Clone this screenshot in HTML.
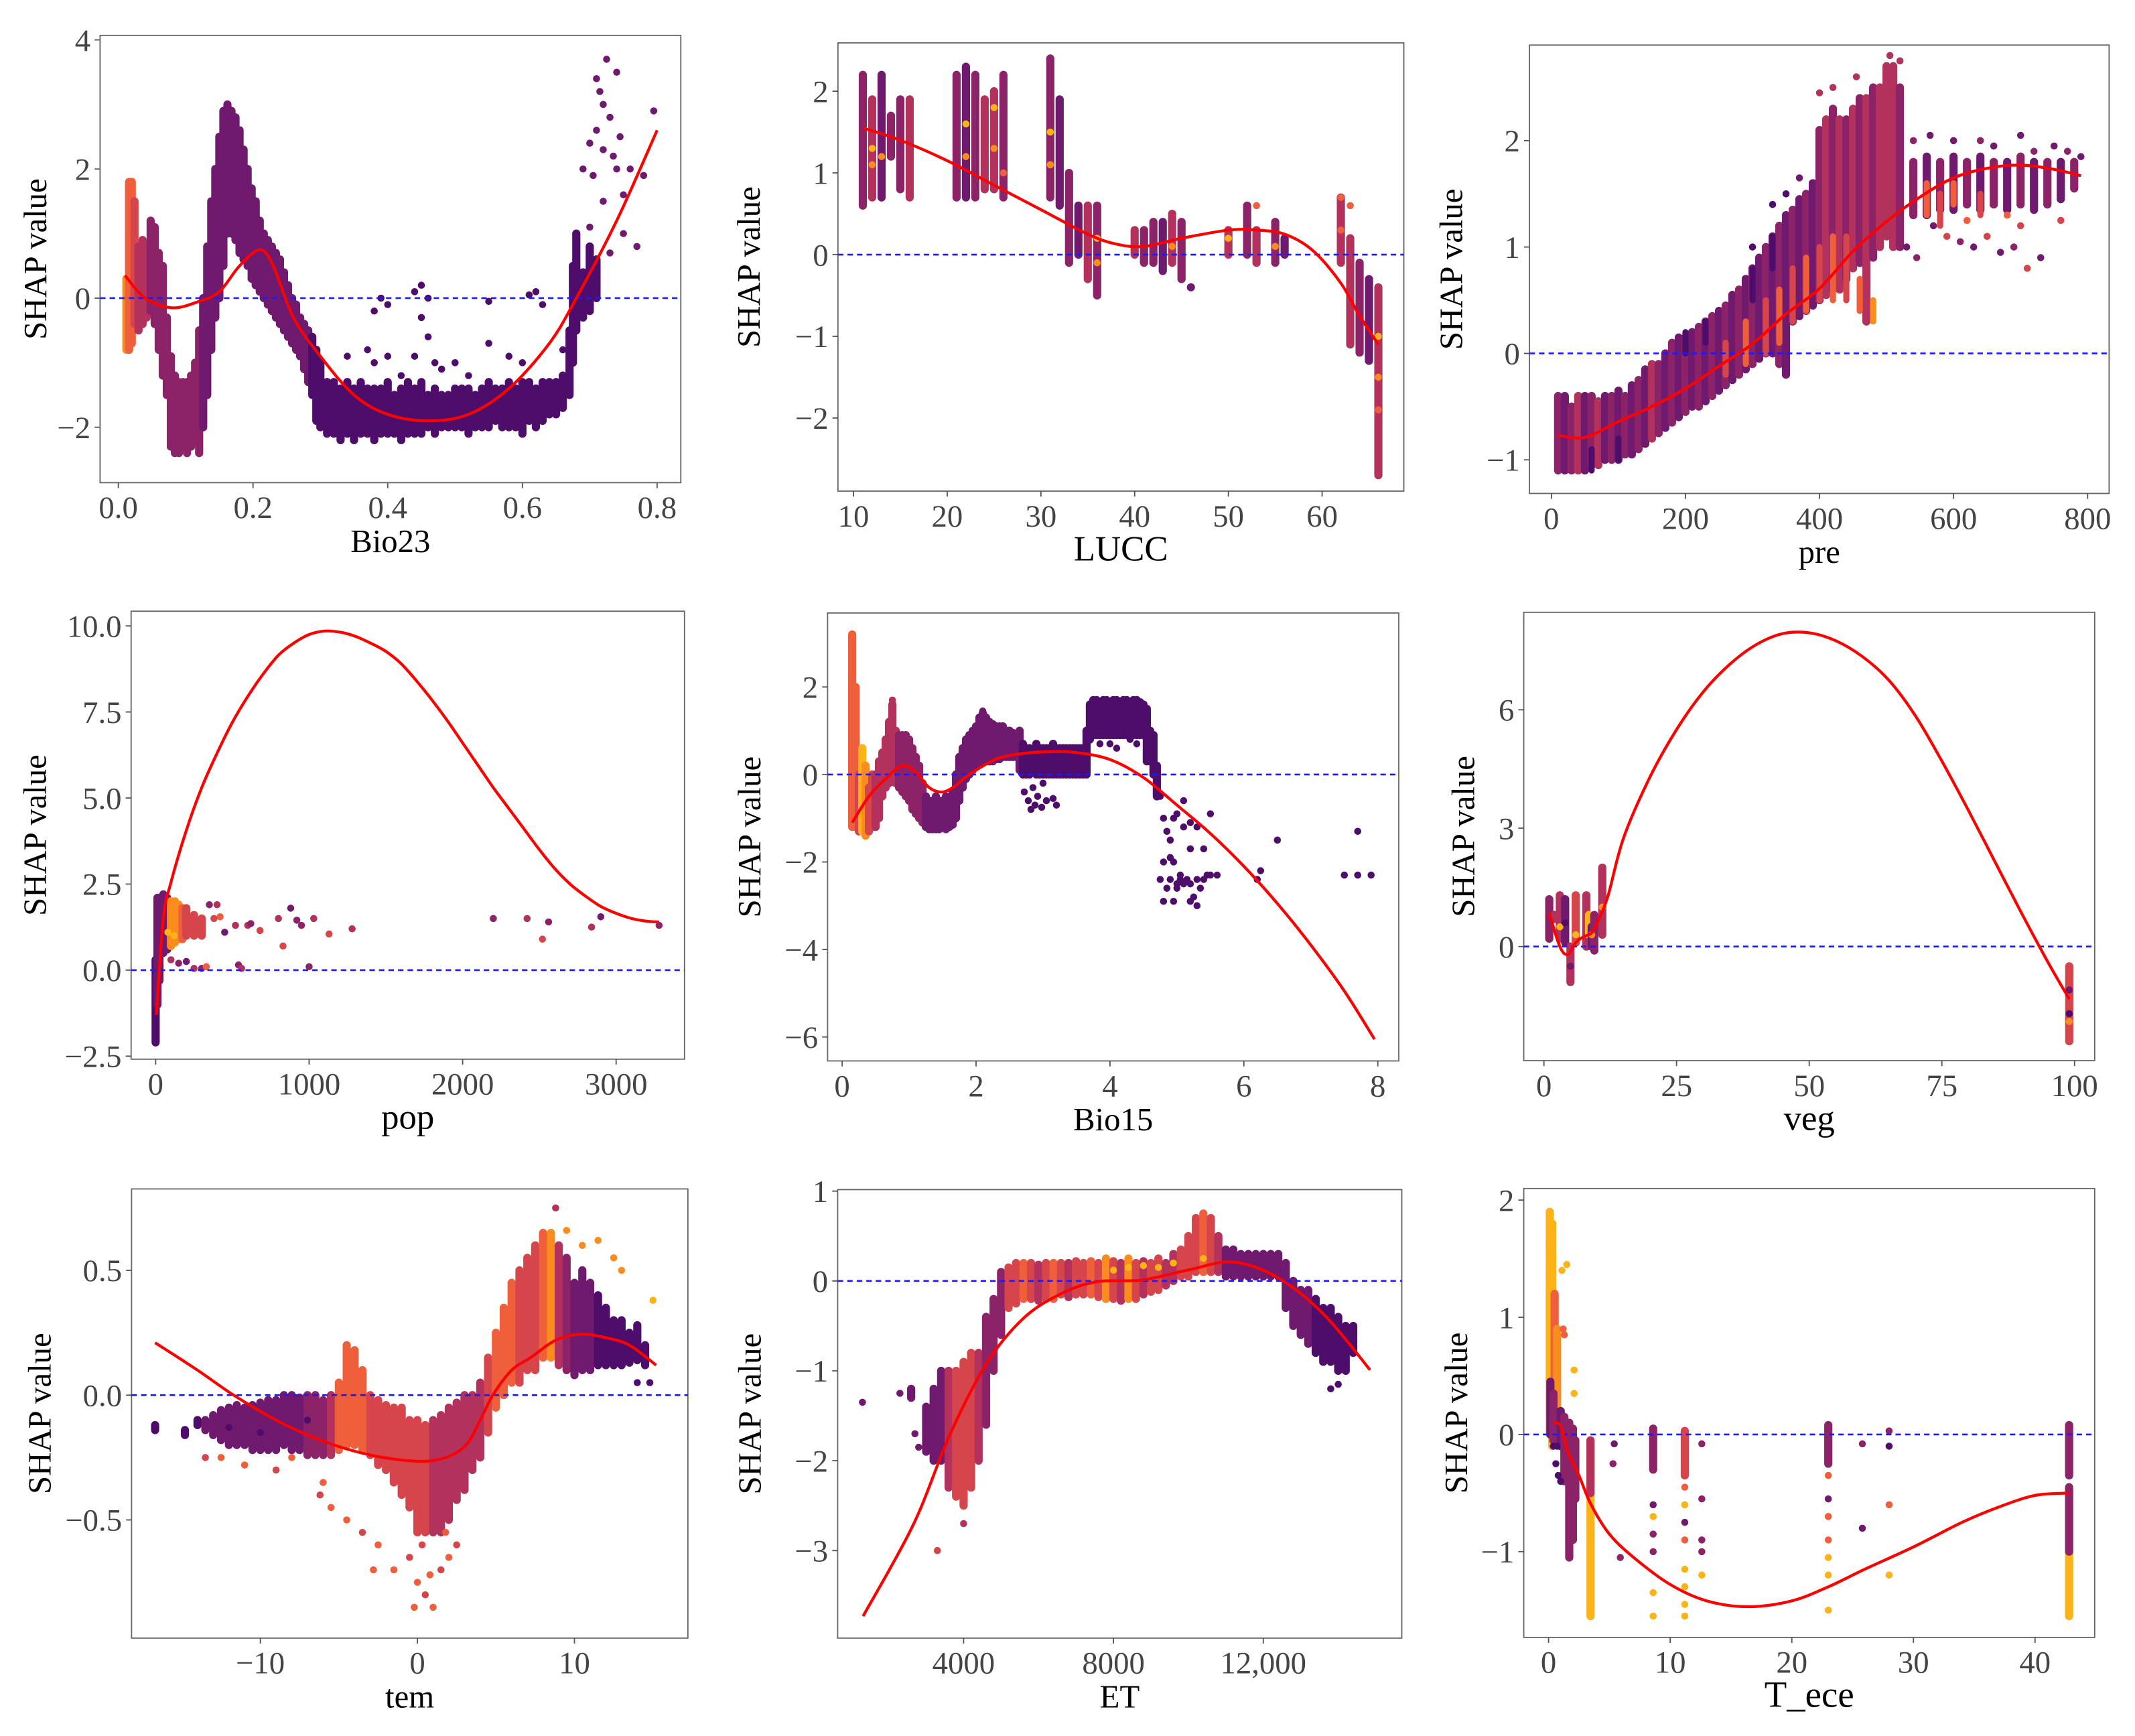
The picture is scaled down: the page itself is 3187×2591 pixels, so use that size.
<!DOCTYPE html>
<html><head><meta charset="utf-8"><style>
html,body{margin:0;padding:0;background:#fff;}
svg{display:block;}
text{font-family:"Liberation Serif","Times New Roman","DejaVu Serif",serif;}
</style></head><body>
<svg id="fig" xmlns="http://www.w3.org/2000/svg" width="3187" height="2591" viewBox="0 0 1568 1275" preserveAspectRatio="none" font-family="Liberation Serif, serif"></svg>
<script>
const palette=['#4f0d6b','#6f1a6e','#8c2369','#b3325d','#d6454b','#ef5f3c','#f98c1d','#fbb318'];

/* ---------- Bio23 ---------- */
const bio23Bands=[[0.012,-0.8,0.3,6],[0.016,-0.8,1.8,5],[0.020,-0.7,1.8,5],[0.024,-0.4,1.5,4],[0.030,-0.5,0.8,3],[0.036,-0.4,0.9,3],[0.042,-0.3,0.8,3],[0.048,-0.2,1.2,2],[0.054,-0.4,1.1,2],[0.060,-0.8,0.7,2],[0.066,-1.2,0.5,2],[0.072,-1.5,-0.3,2],[0.078,-2.3,-0.9,2],[0.084,-2.4,-1.2,2],[0.090,-2.4,-1.3,2],[0.096,-2.3,-1.3,2],[0.102,-2.4,-1.3,2],[0.108,-2.3,-1.2,2],[0.114,-2.2,-1.0,2],[0.120,-2.4,-0.5,2],[0.126,-2.0,0.0,1],[0.132,-1.5,0.8,1],[0.138,-0.8,1.5,1],[0.144,-0.3,2.0,1],[0.150,0.0,2.5,1],[0.156,0.5,2.9,1],[0.162,1.0,3.0,1],[0.168,1.0,2.9,1],[0.174,0.9,2.8,1],[0.180,0.7,2.6,1],[0.186,0.6,2.3,1],[0.192,0.5,2.0,1],[0.198,0.3,1.7,1],[0.204,0.2,1.5,1],[0.210,0.1,1.2,1],[0.216,0.0,1.0,1],[0.222,-0.1,0.9,1],[0.228,-0.2,0.8,1],[0.234,-0.3,0.7,1],[0.240,-0.4,0.6,1],[0.246,-0.5,0.4,1],[0.252,-0.6,0.2,1],[0.258,-0.7,0.0,1],[0.264,-0.8,-0.1,1],[0.270,-0.9,-0.3,1],[0.276,-1.1,-0.4,1],[0.282,-1.3,-0.5,1],[0.288,-1.5,-0.6,0],[0.294,-1.9,-0.8,0],[0.30,-2.0,-1.0,0],[0.31,-2.1,-1.3,0],[0.32,-2.1,-1.3,0],[0.33,-2.2,-1.4,0],[0.34,-2.1,-1.3,0],[0.35,-2.2,-1.4,0],[0.36,-2.1,-1.3,0],[0.37,-2.1,-1.4,0],[0.38,-2.2,-1.4,0],[0.39,-2.1,-1.4,0],[0.40,-2.1,-1.3,0],[0.41,-2.1,-1.5,0],[0.42,-2.2,-1.4,0],[0.43,-2.1,-1.3,0],[0.44,-2.1,-1.4,0],[0.45,-2.1,-1.3,0],[0.46,-2.0,-1.5,0],[0.47,-2.1,-1.4,0],[0.48,-2.0,-1.5,0],[0.49,-2.0,-1.5,0],[0.50,-2.0,-1.4,0],[0.51,-2.0,-1.4,0],[0.52,-2.1,-1.4,0],[0.53,-2.0,-1.5,0],[0.54,-2.0,-1.4,0],[0.55,-2.0,-1.3,0],[0.56,-1.9,-1.4,0],[0.57,-2.0,-1.4,0],[0.58,-2.0,-1.3,0],[0.59,-2.0,-1.4,0],[0.60,-2.1,-1.3,0],[0.61,-1.9,-1.3,0],[0.62,-2.0,-1.4,0],[0.63,-1.9,-1.3,0],[0.64,-1.8,-1.3,0],[0.65,-1.8,-1.3,0],[0.66,-1.7,-1.2,0],[0.67,-1.5,-0.5,0],[0.675,-1.0,0.5,0],[0.68,-0.5,1.0,0],[0.69,-0.3,0.4,0],[0.70,-0.2,0.8,0],[0.71,0.0,0.6,0]];
const bio23Points=[[0.69,2.0,1],[0.70,2.4,1],[0.71,3.4,1],[0.72,3.0,1],[0.725,3.7,1],[0.73,2.8,1],[0.735,2.2,1],[0.74,3.5,1],[0.745,2.5,1],[0.75,1.0,1],[0.76,2.0,1],[0.77,0.8,1],[0.78,1.9,1],[0.795,2.9,1],[0.72,1.5,1],[0.70,1.1,1],[0.73,0.7,1],[0.75,1.6,1],[0.74,2.0,1],[0.71,2.6,1],[0.715,3.2,1],[0.705,1.9,1],[0.72,2.3,1],[0.39,0.0,0],[0.40,-0.1,0],[0.38,-0.2,0],[0.44,0.1,0],[0.45,0.2,0],[0.46,0.0,0],[0.45,-0.3,0],[0.46,-0.6,0],[0.44,-0.9,0],[0.47,-1.0,0],[0.37,-0.8,0],[0.40,-0.9,0],[0.55,-0.05,0],[0.61,0.05,0],[0.62,0.1,0],[0.63,-0.1,0],[0.50,-1.0,0],[0.55,-0.7,0],[0.58,-0.9,0],[0.34,-0.9,0],[0.42,-1.2,0],[0.52,-1.2,0],[0.60,-1.0,0],[0.66,-0.8,0],[0.38,-1.0,0],[0.48,-1.1,0]];
const bio23Curve=[[0.01,0.35],[0.04,0.0],[0.08,-0.15],[0.12,-0.05],[0.15,0.1],[0.18,0.5],[0.21,0.75],[0.23,0.5],[0.26,-0.3],[0.3,-0.9],[0.35,-1.5],[0.4,-1.8],[0.46,-1.9],[0.52,-1.8],[0.58,-1.4],[0.64,-0.7],[0.68,0.0],[0.74,1.2],[0.8,2.6]];
const bio23XTicks=[0,0.2,0.4,0.6,0.8];
const bio23XLabels=['0.0','0.2','0.4','0.6','0.8'];
const bio23YTicks=[-2,0,2,4];
const bio23YLabels=['\u22122','0','2','4'];

/* ---------- LUCC ---------- */
const luccBands=[[11,0.6,2.2,2],[12,0.7,1.9,3],[13,0.7,2.2,1],[14,1.2,1.7,2],[15,0.8,1.9,2],[16,0.7,1.9,3],[21,0.7,2.2,2],[22,0.7,2.3,1],[23,0.7,2.2,2],[24,0.8,1.9,3],[25,0.8,2.0,3],[26,0.7,2.2,2],[31,0.7,2.4,2],[32,0.6,1.9,1],[33,-0.1,1.0,2],[34,0.0,0.6,1],[35,-0.3,0.6,3],[36,-0.5,0.6,2],[40,0.0,0.3,3],[41,-0.1,0.3,2],[42,-0.1,0.4,2],[43,-0.2,0.4,1],[44,-0.1,0.5,3],[45,-0.3,0.4,2],[46,-0.4,-0.4,1],[50,0.0,0.3,3],[52,0.0,0.6,2],[53,-0.1,0.3,3],[55,-0.1,0.4,2],[56,0.0,0.2,1],[62,-0.1,0.7,3],[63,-1.1,0.2,3],[64,-1.2,-0.1,2],[65,-1.3,-0.3,1],[66,-2.7,-0.4,3]];
const luccPoints=[[12,1.1,6],[12,1.3,7],[13,1.2,6],[22,1.2,6],[22,1.6,7],[25,1.8,7],[25,1.3,6],[26,1.0,5],[31,1.1,6],[31,1.5,7],[36,0.2,7],[36,-0.1,6],[44,0.1,6],[50,0.2,7],[55,0.1,6],[62,0.3,5],[66,-1.5,6],[66,-1.9,5],[66,-1.0,7],[63,0.6,5],[46,-0.4,1],[62,0.7,5],[53,0.6,5]];
const luccCurve=[[11,1.55],[15,1.4],[20,1.15],[25,0.85],[30,0.55],[35,0.25],[38,0.13],[41,0.1],[45,0.2],[50,0.3],[53,0.3],[56,0.25],[59,0.05],[62,-0.35],[64,-0.75],[66,-1.1]];
const luccXTicks=[10,20,30,40,50,60];
const luccXLabels=['10','20','30','40','50','60'];
const luccYTicks=[-2,-1,0,1,2];
const luccYLabels=['\u22122','\u22121','0','1','2'];

/* ---------- pre ---------- */
const preBands=[[10,-1.1,-0.4,2],[20,-1.1,-0.4,1],[30,-1.1,-0.5,2],[40,-1.1,-0.4,3],[50,-1.1,-0.4,1],[60,-1.05,-0.4,2],[70,-1.05,-0.45,3],[80,-1.0,-0.4,1],[90,-1.0,-0.4,2],[100,-1.0,-0.35,1],[110,-0.95,-0.4,2],[120,-0.95,-0.3,1],[130,-0.9,-0.25,2],[140,-0.85,-0.15,1],[150,-0.8,-0.1,3],[160,-0.75,-0.1,2],[170,-0.7,0.0,1],[180,-0.65,0.1,2],[190,-0.6,0.15,1],[200,-0.55,0.15,2],[210,-0.5,0.2,1],[220,-0.5,0.25,2],[230,-0.45,0.3,1],[240,-0.4,0.35,2],[250,-0.35,0.4,1],[260,-0.3,0.45,2],[270,-0.25,0.55,1],[280,-0.2,0.6,2],[290,-0.15,0.7,1],[300,-0.1,0.8,2],[310,-0.05,0.9,1],[320,0.0,1.0,2],[330,0.0,1.1,1],[340,-0.1,1.2,2],[350,-0.2,1.3,1],[360,0.3,1.35,2],[370,0.35,1.45,1],[380,0.4,1.5,2],[390,0.45,1.6,1],[400,0.5,2.1,2],[410,0.55,2.2,3],[420,0.6,2.3,2],[430,0.6,2.2,3],[440,0.7,2.2,2],[450,0.8,2.3,3],[460,0.85,2.4,2],[470,0.3,2.4,3],[480,0.9,2.5,2],[490,1.0,2.5,3],[500,1.1,2.7,3],[510,1.0,2.7,3],[520,1.0,2.5,2],[540,1.3,1.8,2],[560,1.3,1.85,1],[580,1.35,1.8,2],[600,1.35,1.85,1],[620,1.4,1.8,2],[640,1.35,1.85,1],[660,1.4,1.8,2],[680,1.35,1.8,1],[700,1.4,1.85,2],[720,1.35,1.8,1],[740,1.4,1.8,2],[760,1.45,1.8,1],[780,1.55,1.8,2]];
const preOverlay=[[260,-0.2,0.1,4],[290,-0.1,0.3,5],[320,0.0,0.5,4],[340,0.1,0.6,5],[360,0.3,0.8,4],[380,0.4,0.9,5],[400,0.5,1.0,4],[420,0.5,1.1,5],[440,0.5,1.1,4],[460,0.4,0.7,5],[480,0.3,0.5,6],[560,1.3,1.6,5],[580,1.2,1.5,4],[600,1.4,1.6,5],[640,1.3,1.5,4],[200,0.0,0.2,0],[230,0.1,0.3,0],[300,0.5,0.8,0],[330,0.8,1.1,0],[60,-1.1,-0.9,0],[100,-1.0,-0.8,0]];
const prePoints=[[530,1.0,1],[545,0.9,2],[570,1.2,1],[590,1.1,4],[610,1.05,2],[630,1.0,1],[650,1.1,4],[670,0.95,1],[690,1.0,2],[710,0.8,4],[730,0.9,1],[760,1.25,4],[540,2.0,2],[565,2.05,1],[600,2.0,1],[640,2.0,2],[660,1.95,1],[700,2.05,1],[720,1.9,2],[750,1.95,1],[770,1.9,2],[790,1.85,1],[620,1.25,5],[680,1.3,5],[700,1.2,4],[330,1.4,0],[350,1.5,0],[370,1.65,1],[300,1.0,0],[400,2.45,3],[420,2.5,3],[455,2.6,3],[520,2.75,3],[505,2.8,3]];
const preCurve=[[10,-0.77],[50,-0.79],[100,-0.64],[150,-0.5],[200,-0.33],[250,-0.12],[300,0.09],[350,0.37],[400,0.61],[450,0.96],[500,1.24],[550,1.47],[600,1.65],[650,1.74],[700,1.77],[750,1.73],[790,1.67]];
const preXTicks=[0,200,400,600,800];
const preXLabels=['0','200','400','600','800'];
const preYTicks=[-1,0,1,2];
const preYLabels=['\u22121','0','1','2'];

/* ---------- pop ---------- */
const popBands=[[0,-2.1,0.3,0],[12,-1.0,2.1,1],[25,-0.3,2.1,1],[50,0.5,2.2,1],[75,0.6,2.1,1],[100,0.7,2.0,6],[125,0.8,2.0,6],[150,0.9,1.9,6],[175,0.9,1.8,5],[200,1.0,1.8,4],[250,1.0,1.6,4],[300,1.0,1.5,4]];
const popPoints=[[100,0.3,3],[150,0.2,2],[200,0.25,1],[250,0.05,3],[300,0.05,2],[330,0.1,5],[400,1.9,3],[420,1.55,5],[450,1.1,1],[520,1.3,3],[540,0.15,2],[560,0.05,3],[600,1.3,3],[620,1.35,2],[680,1.15,4],[800,1.5,3],[830,0.7,4],[880,1.8,1],[920,1.45,2],[950,1.3,2],[1000,0.1,2],[1030,1.5,3],[1130,1.05,4],[1280,1.2,3],[2200,1.5,2],[2420,1.5,3],[2520,0.9,4],[2560,1.4,2],[2840,1.25,3],[2900,1.55,1],[3280,1.3,2],[350,1.9,2],[380,1.5,4],[80,1.1,7],[120,1.0,7]];
const popCurve=[[5,-1.3],[50,1.5],[100,2.55],[200,4.06],[300,5.3],[400,6.3],[500,7.2],[600,7.95],[700,8.6],[800,9.15],[900,9.5],[1000,9.75],[1100,9.85],[1200,9.82],[1300,9.7],[1400,9.5],[1500,9.26],[1600,8.9],[1700,8.4],[1800,7.85],[1900,7.25],[2000,6.6],[2100,5.95],[2200,5.3],[2300,4.7],[2400,4.1],[2500,3.5],[2600,2.95],[2700,2.5],[2800,2.15],[2900,1.85],[3000,1.65],[3100,1.5],[3200,1.42],[3280,1.4]];
const popXTicks=[0,1000,2000,3000];
const popXLabels=['0','1000','2000','3000'];
const popYTicks=[-2.5,0,2.5,5,7.5,10];
const popYLabels=['\u22122.5','0.0','2.5','5.0','7.5','10.0'];

/* ---------- Bio15 ---------- */
const bio15Bands=[[0.15,-1.2,3.2,5],[0.2,-1.2,2.0,5],[0.25,-1.3,0.0,4],[0.3,-1.3,0.6,7],[0.35,-1.4,0.2,6],[0.4,-1.3,-0.3,4],[0.45,-1.2,0.0,4],[0.5,-1.2,0.0,3],[0.55,-1.0,0.3,3],[0.6,-0.5,0.5,3],[0.65,-0.3,0.8,3],[0.7,-0.2,1.2,3],[0.75,-0.1,1.6,3],[0.8,-0.2,1.0,3],[0.85,-0.3,0.9,2],[0.9,-0.4,0.9,2],[0.95,-0.5,0.9,2],[1.0,-0.6,0.8,2],[1.05,-0.8,0.6,2],[1.1,-0.9,0.4,2],[1.15,-1.0,0.2,2],[1.2,-1.1,-0.2,2],[1.25,-1.2,-0.5,1],[1.3,-1.25,-0.6,1],[1.35,-1.25,-0.6,1],[1.4,-1.25,-0.5,1],[1.45,-1.25,-0.6,1],[1.5,-1.2,-0.6,1],[1.55,-1.25,-0.5,1],[1.6,-1.2,-0.6,1],[1.65,-1.15,-0.4,1],[1.7,-1.0,0.0,1],[1.75,-0.6,0.4,1],[1.8,-0.3,0.6,1],[1.85,-0.1,0.8,1],[1.9,0.0,0.9,1],[1.95,0.1,1.0,1],[2.0,0.2,1.1,1],[2.05,0.25,1.3,1],[2.1,0.3,1.4,1],[2.15,0.3,1.3,1],[2.2,0.3,1.2,1],[2.25,0.3,1.15,1],[2.3,0.35,1.1,1],[2.35,0.35,1.1,1],[2.4,0.4,1.1,1],[2.45,0.4,1.0,1],[2.5,0.4,1.0,1],[2.55,0.4,0.95,1],[2.6,0.4,0.9,1],[2.65,0.1,1.0,1],[2.7,0.0,0.7,0],[2.75,0.0,0.6,0],[2.8,0.0,0.6,0],[2.85,0.05,0.5,0],[2.9,0.0,0.7,0],[2.95,0.0,0.6,0],[3.0,0.0,0.6,0],[3.05,0.0,0.6,0],[3.1,0.0,0.6,0],[3.15,0.0,0.7,0],[3.2,0.0,0.6,0],[3.25,0.0,0.6,0],[3.3,0.0,0.6,0],[3.35,0.0,0.6,0],[3.4,0.0,0.6,0],[3.45,0.0,0.6,0],[3.5,0.0,0.6,0],[3.55,0.0,0.6,0],[3.6,0.0,0.6,0],[3.65,0.0,1.0,0],[3.7,0.8,1.6,0],[3.75,0.9,1.7,0],[3.8,0.9,1.7,0],[3.85,0.9,1.65,0],[3.9,0.9,1.7,0],[3.95,0.9,1.7,0],[4.0,0.9,1.65,0],[4.05,0.9,1.7,0],[4.1,0.9,1.7,0],[4.15,0.9,1.65,0],[4.2,0.9,1.7,0],[4.25,0.9,1.7,0],[4.3,0.9,1.65,0],[4.35,0.9,1.7,0],[4.4,0.9,1.7,0],[4.45,0.9,1.65,0],[4.5,0.9,1.6,0],[4.55,0.3,1.5,0],[4.6,0.3,1.0,0],[4.65,0.0,0.9,0],[4.7,-0.5,0.2,0]];
const bio15Points=[[2.72,-0.4,0],[2.78,-0.6,0],[2.82,-0.8,0],[2.88,-0.7,0],[2.92,-0.5,0],[2.98,-0.75,0],[3.05,-0.6,0],[3.15,-0.55,0],[3.2,-0.7,0],[2.85,-0.3,0],[3.0,-0.2,0],[4.75,-0.5,0],[4.8,-1.0,0],[4.85,-1.3,0],[4.9,-1.5,0],[4.95,-1.0,0],[5.0,-0.9,0],[5.1,-1.2,0],[5.1,-0.6,0],[5.2,-1.1,0],[5.3,-1.2,0],[5.5,-0.9,0],[5.4,-1.7,0],[4.8,-2.0,0],[4.95,-2.0,0],[5.2,-1.7,0],[4.9,-1.9,0],[4.75,-2.4,0],[4.85,-2.6,0],[4.9,-2.4,0],[5.0,-2.5,0],[5.05,-2.4,0],[5.1,-2.5,0],[5.15,-2.4,0],[5.2,-2.5,0],[5.3,-2.4,0],[5.4,-2.4,0],[5.45,-2.3,0],[5.5,-2.3,0],[5.6,-2.3,0],[4.8,-2.9,0],[4.95,-2.9,0],[5.2,-2.9,0],[5.25,-2.8,0],[5.3,-3.0,0],[6.2,-2.4,0],[6.25,-2.2,0],[6.5,-1.5,0],[7.5,-2.3,0],[7.7,-2.3,0],[7.7,-1.3,0],[7.9,-2.3,0],[5.0,-2.6,0],[5.35,-2.6,0],[5.05,-2.3,0],[3.85,0.7,0],[4.0,0.7,0],[4.1,0.6,0],[4.3,0.8,0],[4.4,0.7,0],[0.75,1.7,3],[2.1,1.45,1]];
const bio15Curve=[[0.15,-1.1],[0.4,-0.5],[0.65,-0.1],[0.9,0.2],[1.1,0.05],[1.3,-0.3],[1.5,-0.4],[1.7,-0.25],[1.9,0.0],[2.3,0.35],[2.7,0.48],[3.1,0.52],[3.5,0.5],[4.0,0.34],[4.5,-0.07],[5.0,-0.7],[5.5,-1.35],[6.0,-2.1],[6.5,-2.95],[7.0,-3.9],[7.5,-4.95],[7.95,-6.05]];
const bio15XTicks=[0,2,4,6,8];
const bio15XLabels=['0','2','4','6','8'];
const bio15YTicks=[-6,-4,-2,0,2];
const bio15YLabels=['\u22126','\u22124','\u22122','0','2'];

/* ---------- veg ---------- */
const vegBands=[[1,0.2,1.2,2],[2,0.7,0.8,3],[3,0.2,1.3,3],[4,0.1,1.2,1],[5,-0.9,0.0,3],[6,0.1,1.3,4],[8,0.0,1.3,3],[8.5,0.3,0.8,7],[9,0.0,0.5,1],[9.5,-0.1,0.8,2],[11,0.3,2.0,3],[99,-2.4,-0.5,4]];
const vegPoints=[[5,-0.5,1],[6,0.3,7],[9,0.3,6],[99,-1.1,1],[99,-1.7,0],[99,-1.9,6],[3,0.5,7],[11,1.0,6],[4,0.6,0]];
const vegCurve=[[1,0.85],[3,0.0],[4.5,-0.2],[6,0.1],[7.5,0.25],[9,0.35],[10,0.6],[12,1.25],[15,2.75],[20,4.3],[25,5.5],[30,6.45],[35,7.15],[40,7.65],[45,7.93],[50,7.95],[55,7.75],[60,7.35],[65,6.75],[70,5.85],[75,4.7],[80,3.45],[85,2.15],[90,0.85],[95,-0.4],[99,-1.33]];
const vegXTicks=[0,25,50,75,100];
const vegXLabels=['0','25','50','75','100'];
const vegYTicks=[0,3,6];
const vegYLabels=['0','3','6'];

/* ---------- tem ---------- */
const temBands=[[-16.7,-0.14,-0.12,0],[-14.8,-0.16,-0.14,0],[-14,-0.12,-0.1,0],[-13.5,-0.14,-0.1,1],[-13,-0.16,-0.08,1],[-12.5,-0.18,-0.06,1],[-12,-0.2,-0.05,1],[-11.5,-0.2,-0.04,1],[-11,-0.2,-0.05,1],[-10.5,-0.22,-0.04,1],[-10,-0.22,-0.03,1],[-9.5,-0.22,-0.02,1],[-9,-0.22,-0.02,1],[-8.5,-0.2,0.0,1],[-8,-0.22,0.0,1],[-7.5,-0.22,-0.01,1],[-7,-0.24,0.0,2],[-6.5,-0.24,0.0,2],[-6,-0.24,-0.02,2],[-5.5,-0.24,0.0,3],[-5,-0.22,0.05,5],[-4.5,-0.2,0.2,5],[-4,-0.2,0.18,5],[-3.5,-0.22,0.1,5],[-3,-0.24,0.0,4],[-2.5,-0.28,-0.02,4],[-2,-0.3,-0.04,4],[-1.5,-0.35,-0.05,4],[-1,-0.4,-0.05,4],[-0.5,-0.45,-0.1,4],[0,-0.55,-0.1,4],[0.5,-0.55,-0.12,4],[1,-0.55,-0.1,3],[1.5,-0.55,-0.08,3],[2,-0.5,-0.05,3],[2.5,-0.42,-0.03,3],[3,-0.38,0.0,3],[3.5,-0.3,0.0,3],[4,-0.25,0.05,3],[4.5,-0.15,0.15,4],[5,-0.05,0.25,5],[5.5,0.0,0.35,5],[6,0.05,0.45,5],[6.5,0.05,0.5,4],[7,0.1,0.55,4],[7.5,0.1,0.6,4],[8,0.15,0.65,5],[8.5,0.15,0.65,6],[9,0.12,0.6,3],[9.5,0.1,0.55,2],[10,0.08,0.45,1],[10.5,0.1,0.5,1],[11,0.1,0.45,1],[11.5,0.12,0.4,0],[12,0.12,0.35,0],[12.5,0.12,0.3,0],[13,0.12,0.3,0],[13.5,0.13,0.25,0],[14,0.14,0.28,0],[14.5,0.12,0.2,0]];
const temPoints=[[-12.5,-0.25,5],[-13.5,-0.25,4],[-11,-0.28,5],[-9,-0.3,4],[-8,-0.25,5],[-6,-0.35,5],[-5.5,-0.45,5],[-6.2,-0.4,4],[-4.5,-0.5,5],[-3.5,-0.55,4],[-2.5,-0.6,5],[-1.5,-0.7,5],[-0.5,-0.65,4],[0,-0.75,5],[0.5,-0.8,4],[1,-0.85,5],[-0.2,-0.85,5],[1.5,-0.7,4],[2,-0.65,5],[2.5,-0.6,4],[-2.8,-0.7,5],[0.8,-0.72,5],[0.3,-0.6,4],[1.8,-0.55,5],[10.5,0.6,6],[11.5,0.62,6],[12.5,0.55,6],[13,0.5,6],[15,0.38,7],[14.8,0.05,0],[14,0.05,0],[8.8,0.75,3],[9.5,0.66,6],[-10,-0.15,0],[-12,-0.13,0],[-7,-0.1,0]];
const temCurve=[[-16.7,0.21],[-14,0.1],[-11.7,0.0],[-9,-0.1],[-6.2,-0.18],[-3,-0.24],[0,-0.265],[1.8,-0.25],[3.1,-0.2],[4.0,-0.1],[4.8,0.0],[6,0.1],[7.2,0.15],[8.8,0.22],[10.4,0.244],[12,0.23],[13.5,0.2],[15.2,0.12]];
const temXTicks=[-10,0,10];
const temXLabels=['\u221210','0','10'];
const temYTicks=[-0.5,0,0.5];
const temYLabels=['\u22120.5','0.0','0.5'];

/* ---------- ET ---------- */
const etBands=[[2600,-1.3,-1.2,1],[3000,-1.9,-1.4,1],[3200,-2.0,-1.2,1],[3400,-2.0,-1.0,1],[3600,-2.3,-1.0,3],[3800,-2.4,-1.0,4],[4000,-2.5,-0.9,4],[4200,-2.3,-0.8,4],[4400,-2.0,-0.8,3],[4600,-1.6,-0.4,2],[4800,-1.0,-0.2,2],[5000,-0.6,0.1,2],[5200,-0.3,0.15,4],[5400,-0.25,0.2,4],[5600,-0.2,0.2,5],[5800,-0.2,0.2,4],[6000,-0.22,0.18,3],[6200,-0.2,0.2,4],[6400,-0.2,0.2,5],[6600,-0.15,0.2,4],[6800,-0.18,0.2,3],[7000,-0.15,0.22,4],[7200,-0.15,0.2,4],[7400,-0.15,0.22,5],[7600,-0.18,0.2,4],[7800,-0.2,0.25,6],[8000,-0.2,0.22,4],[8200,-0.22,0.2,3],[8400,-0.2,0.25,6],[8600,-0.2,0.2,4],[8800,-0.15,0.22,3],[9000,-0.12,0.2,4],[9200,-0.1,0.25,4],[9400,-0.05,0.2,3],[9600,0.0,0.3,3],[9800,0.05,0.35,4],[10000,0.05,0.5,4],[10200,0.1,0.7,4],[10400,0.1,0.75,5],[10600,0.1,0.7,4],[10800,0.1,0.5,3],[11000,0.05,0.35,1],[11200,0.05,0.35,1],[11400,0.05,0.3,1],[11600,0.05,0.3,1],[11800,0.05,0.3,1],[12000,0.05,0.3,1],[12200,0.05,0.3,1],[12400,0.05,0.3,1],[12600,-0.3,0.2,1],[12800,-0.5,0.0,1],[13000,-0.6,-0.1,1],[13200,-0.7,-0.1,1],[13400,-0.8,-0.2,0],[13600,-0.9,-0.3,0],[13800,-0.9,-0.3,0],[14000,-1.0,-0.4,0],[14200,-1.0,-0.5,0],[14400,-0.8,-0.5,0]];
const etPoints=[[1300,-1.35,1],[2300,-1.25,1],[2700,-1.7,1],[3300,-3.0,4],[4000,-2.7,3],[3400,-1.6,1],[2800,-1.85,1],[8000,0.12,7],[8400,0.15,7],[8800,0.17,7],[9200,0.15,7],[9600,0.2,7],[10400,0.25,7],[13800,-1.2,0],[14000,-1.15,0]];
const etCurve=[[1317,-3.73],[2659,-2.71],[3634,-1.71],[4610,-0.92],[5585,-0.42],[6561,-0.15],[7537,-0.01],[8756,0.01],[9976,0.12],[11195,0.21],[12415,0.03],[13634,-0.38],[14850,-0.99]];
const etXTicks=[4000,8000,12000];
const etXLabels=['4000','8000','12,000'];
const etYTicks=[-3,-2,-1,0,1];
const etYLabels=['\u22123','\u22122','\u22121','0','1'];

/* ---------- T_ece ---------- */
const teceBands=[[0.1,0.0,1.9,7],[0.3,-0.1,1.8,7],[0.5,0.0,1.2,5],[0.7,0.05,0.9,6],[0.15,0.0,0.45,1],[0.4,-0.05,0.35,2],[1.0,-0.1,0.2,1],[1.3,-0.4,0.15,2],[1.7,-1.05,0.1,2],[2.0,-0.9,0.05,2],[2.2,-0.55,-0.05,2],[3.45,-1.55,-0.05,7],[3.45,-0.5,-0.05,3],[8.6,-0.3,0.05,2],[11.2,-0.35,0.03,4],[23,-0.25,0.08,2],[42.8,-1.55,-1.0,7],[42.8,-0.35,0.08,2],[42.8,-1.0,-0.45,2]];
const tecePoints=[[8.6,-0.6,1],[8.6,-0.7,7],[8.6,-0.85,2],[8.6,-1.0,2],[8.6,-1.35,7],[8.6,-1.55,7],[11.2,-0.45,5],[11.2,-0.6,7],[11.2,-0.75,1],[11.2,-0.9,5],[11.2,-1.15,7],[11.2,-1.3,7],[11.2,-1.45,7],[11.2,-1.55,7],[12.6,-0.08,2],[12.6,-0.55,2],[12.6,-0.9,2],[12.6,-1.0,2],[12.6,-1.2,7],[5.4,-0.08,1],[5.3,-0.25,2],[5.9,-1.05,2],[23,-0.35,5],[23,-0.55,1],[23,-0.7,5],[23,-0.9,5],[23,-1.05,7],[23,-1.2,7],[23,-1.5,7],[25.8,-0.08,2],[25.8,-0.8,1],[28,0.03,2],[28,-0.1,0],[28,-0.6,5],[28,-1.2,7],[0.4,-0.1,0],[0.7,-0.1,0],[1.1,1.4,7],[1.5,1.45,7],[1.2,0.9,5],[1.3,0.85,5],[2.1,0.55,7],[2.1,0.35,7],[0.6,-0.25,0],[0.8,-0.35,0],[1.0,-0.4,0],[0.3,1.6,7],[0.3,1.4,7]];
const teceCurve=[[0.4,0.1],[1.0,0.07],[1.6,-0.15],[2.5,-0.35],[3.5,-0.6],[5,-0.85],[7,-1.05],[10,-1.28],[13,-1.42],[16.4,-1.47],[20,-1.42],[23,-1.3],[26,-1.15],[30,-0.96],[34,-0.75],[37,-0.62],[40,-0.52],[42.8,-0.5]];
const teceXTicks=[0,10,20,30,40];
const teceXLabels=['0','10','20','30','40'];
const teceYTicks=[-1,0,1,2];
const teceYLabels=['\u22121','0','1','2'];

const NS='http://www.w3.org/2000/svg';
const FONT='Liberation Serif, Times New Roman, serif';
const svg=document.getElementById('fig');
function el(tag,attrs,parent){const e=document.createElementNS(NS,tag);for(const k in attrs)e.setAttribute(k,attrs[k]);(parent||svg).appendChild(e);return e;}

function catmull(pts){
  let d='M'+pts[0][0].toFixed(2)+','+pts[0][1].toFixed(2);
  for(let i=0;i<pts.length-1;i++){
    const p0=pts[Math.max(0,i-1)],p1=pts[i],p2=pts[i+1],p3=pts[Math.min(pts.length-1,i+2)];
    const c1x=p1[0]+(p2[0]-p0[0])/6,c1y=p1[1]+(p2[1]-p0[1])/6;
    const c2x=p2[0]-(p3[0]-p1[0])/6,c2y=p2[1]-(p3[1]-p1[1])/6;
    d+='C'+c1x.toFixed(2)+','+c1y.toFixed(2)+' '+c2x.toFixed(2)+','+c2y.toFixed(2)+' '+p2[0].toFixed(2)+','+p2[1].toFixed(2);
  }
  return d;
}

function drawPanel(cfg){
  const g=el('g',{});
  
  
  const xs=v=>cfg.xa[1]+(v-cfg.xa[0])*(cfg.xa[3]-cfg.xa[1])/(cfg.xa[2]-cfg.xa[0]);
  const ys=v=>cfg.ya[1]+(v-cfg.ya[0])*(cfg.ya[3]-cfg.ya[1])/(cfg.ya[2]-cfg.ya[0]);
  const [L,R,T,B]=cfg.box;
  const frame=el('rect',{x:L,y:T,width:R-L,height:B-T,fill:'none',stroke:'#666','stroke-width':0.9},g);
  
  
  cfg.xt.forEach((v,i)=>{
    const x=xs(v);
    const t=el('line',{x1:x,x2:x,y1:B,y2:B+4,stroke:'#555','stroke-width':0.9},g);
    
    
    const lb=el('text',{x:x,y:B+26,'text-anchor':'middle','font-size':23,fill:'#444','font-family':FONT},g);
    
    
    lb.textContent=cfg.xl[i];
  });
  cfg.yt.forEach((v,i)=>{
    const y=ys(v);
    const t=el('line',{x1:L-4,x2:L,y1:y,y2:y,stroke:'#555','stroke-width':0.9},g);
    
    
    const lb=el('text',{x:L-7,y:y+8,'text-anchor':'end','font-size':23,fill:'#444','font-family':FONT},g);
    
    
    lb.textContent=cfg.yl[i];
  });
  const xt=el('text',{x:(L+R)/2,y:B+51,'text-anchor':'middle','font-size':cfg.tsize||24,fill:'#000','font-family':FONT},g);
  
  
  xt.textContent=cfg.xtitle;
  const cy=(T+B)/2, cx=L+cfg.yoff;
  const yt=el('text',{x:cx,y:cy,'text-anchor':'middle','dominant-baseline':'middle','font-size':24,fill:'#000','font-family':FONT,transform:'rotate(-90 '+cx+' '+cy+')'},g);
  
  
  yt.textContent='SHAP value';
  const mg=el('g',{},g);
  
  
  cfg.bands.forEach(b=>{
    const ln=el('line',{x1:xs(b[0]),x2:xs(b[0]),y1:ys(b[1]),y2:ys(b[2]),stroke:palette[b[3]],'stroke-width':6,'stroke-linecap':'round'},mg);
    
    
  });
  (cfg.overlay||[]).forEach(b=>{
    const ln=el('line',{x1:xs(b[0]),x2:xs(b[0]),y1:ys(b[1]),y2:ys(b[2]),stroke:palette[b[3]],'stroke-width':4.5,'stroke-linecap':'round'},mg);
    
    
  });
  cfg.points.forEach(p=>{
    const c=el('circle',{cx:xs(p[0]),cy:ys(p[1]),r:2.6,fill:palette[p[2]]},mg);
    
    
  });
  const zl=el('line',{x1:L,x2:R,y1:ys(0),y2:ys(0),stroke:'#1a1aff','stroke-width':1.3,'stroke-dasharray':'4 3'},g);
  
  
  const path=el('path',{d:catmull(cfg.curve.map(p=>[xs(p[0]),ys(p[1])])),fill:'none',stroke:'#ff0000','stroke-width':2.1},g);
  
  
}

drawPanel({name:'bio23',box:[73.5,500,26,354.5],xa:[0,86.9,0.8,482.6],ya:[4,29.3,-2,313.8],xt:bio23XTicks,xl:bio23XLabels,yt:bio23YTicks,yl:bio23YLabels,xtitle:'Bio23',yoff:-45,bands:bio23Bands,points:bio23Points,curve:bio23Curve});
drawPanel({name:'lucc',box:[615.4,1031,31.5,360.7],xa:[10,626.8,60,971],ya:[2,67,-2,307],xt:luccXTicks,xl:luccXLabels,yt:luccYTicks,yl:luccYLabels,xtitle:'LUCC',tsize:26,yoff:-63,bands:luccBands,points:luccPoints,curve:luccCurve});
drawPanel({name:'pre',box:[1123.3,1549,33.1,362.4],xa:[0,1139.4,800,1533.2],ya:[2,103.3,-1,337.7],xt:preXTicks,xl:preXLabels,yt:preYTicks,yl:preYLabels,xtitle:'pre',yoff:-55,bands:preBands,overlay:preOverlay,points:prePoints,curve:preCurve});
drawPanel({name:'pop',box:[96.3,502.7,448.9,777.9],xa:[0,114.3,3000,452.5],ya:[10,459.7,-2.5,775.7],xt:popXTicks,xl:popXLabels,yt:popYTicks,yl:popYLabels,xtitle:'pop',tsize:26,yoff:-68,bands:popBands,points:popPoints,curve:popCurve});
drawPanel({name:'bio15',box:[607.8,1027.3,450.2,779.2],xa:[0,618.5,8,1011.9],ya:[0,568.8,-6,761.6],xt:bio15XTicks,xl:bio15XLabels,yt:bio15YTicks,yl:bio15YLabels,xtitle:'Bio15',yoff:-55,bands:bio15Bands,points:bio15Points,curve:bio15Curve});
drawPanel({name:'veg',box:[1119.1,1538.4,449.7,779],xa:[0,1133.9,100,1523.6],ya:[6,521.3,0,695.2],xt:vegXTicks,xl:vegXLabels,yt:vegYTicks,yl:vegYLabels,xtitle:'veg',tsize:26,yoff:-42,bands:vegBands,points:vegPoints,curve:vegCurve});
drawPanel({name:'tem',box:[96.6,505.2,873.2,1203.1],xa:[-10,191.2,10,421.9],ya:[0.5,933,-0.5,1116.3],xt:temXTicks,xl:temXLabels,yt:temYTicks,yl:temYLabels,xtitle:'tem',yoff:-65,bands:temBands,points:temPoints,curve:temCurve});
drawPanel({name:'et',box:[615.2,1029.5,873.7,1203.1],xa:[4000,707.7,12000,927.8],ya:[1,874.8,-3,1138.8],xt:etXTicks,xl:etXLabels,yt:etYTicks,yl:etYLabels,xtitle:'ET',yoff:-62,bands:etBands,points:etPoints,curve:etCurve});
drawPanel({name:'tece',box:[1119.1,1538.4,872.9,1202.6],xa:[0,1137.3,40,1494.6],ya:[2,881.4,-1,1139.6],xt:teceXTicks,xl:teceXLabels,yt:teceYTicks,yl:teceYLabels,xtitle:'T_ece',tsize:27,yoff:-47,bands:teceBands,points:tecePoints,curve:teceCurve});
</script>
</body></html>
